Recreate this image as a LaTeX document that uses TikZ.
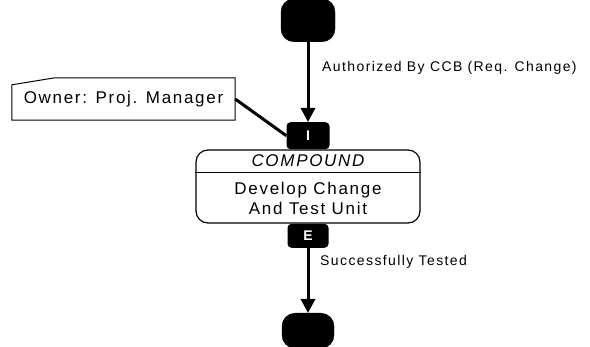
\documentclass[tikz,border=0pt]{standalone}
\usepackage{fontspec}
\setmainfont{Liberation Sans}[LetterSpace=10]
\usepackage{tikz}
\usetikzlibrary{positioning, shapes, arrows.meta}

\tikzset{
  term/.style={draw, fill=black, rounded corners=13pt, minimum width=54pt, minimum height=43pt},
  tab/.style={fill=black, rounded corners=4pt, text=white, inner sep=0pt, font=\fontsize{14}{16}\selectfont\bfseries},
  flow/.style={line width=3pt, -{Triangle[width=14pt,length=14pt]}},
  big/.style={font=\fontsize{17}{20}\selectfont},
  small/.style={font=\fontsize{14}{16}\selectfont, inner sep=0pt, anchor=west}
}

\begin{document}
\begin{tikzpicture}[x=1pt, y=-1pt]
  \useasboundingbox (0,0) rectangle (590,347);

  % activity box
  \node (proc) [draw, line width=1.2pt, rounded corners=12pt, minimum width=224pt, minimum height=73pt] at (308,186.5) {};
  \node (kind) [big, inner sep=0pt, minimum height=23pt, below=0pt of proc.north] {\itshape COMPOUND};
  \node (task) [big, align=center, inner sep=0pt, minimum height=50pt, below=0pt of kind] {Develop Change\\And Test Unit};
  \draw[line width=1.2pt] (proc.west |- kind.south) -- (proc.east |- kind.south);

  % entry / exit tabs
  \node (ibox) [tab, minimum width=43pt, minimum height=27pt, above=0pt of proc] {I};
  \node (ebox) [tab, minimum width=41pt, minimum height=24pt, below=0pt of proc] {E};

  % terminals
  \node (start) [term, above=80pt of ibox] {};
  \node (stop) [term, minimum width=52pt, minimum height=35pt, below=65pt of ebox] {};

  \draw[flow] (start) -- (ibox);
  \draw[flow] (ebox) -- (stop);

  \node (auth) [small] at (322,68) {Authorized By CCB (Req. Change)};
  \node (done) [small] at (320,262) {Successfully Tested};

  % owner note
  \node (owner) [big, minimum width=223pt, minimum height=42pt] at (123.5,99) {Owner: Proj. Manager};
  \draw[line width=1pt] (owner.south west) -- ([yshift=-7pt]owner.north west) -- ([xshift=43pt]owner.north west) -- (owner.north east) -- (owner.south east) -- cycle;
  \draw[line width=3pt] (owner.east) -- (ibox.west);
\end{tikzpicture}
\end{document}
